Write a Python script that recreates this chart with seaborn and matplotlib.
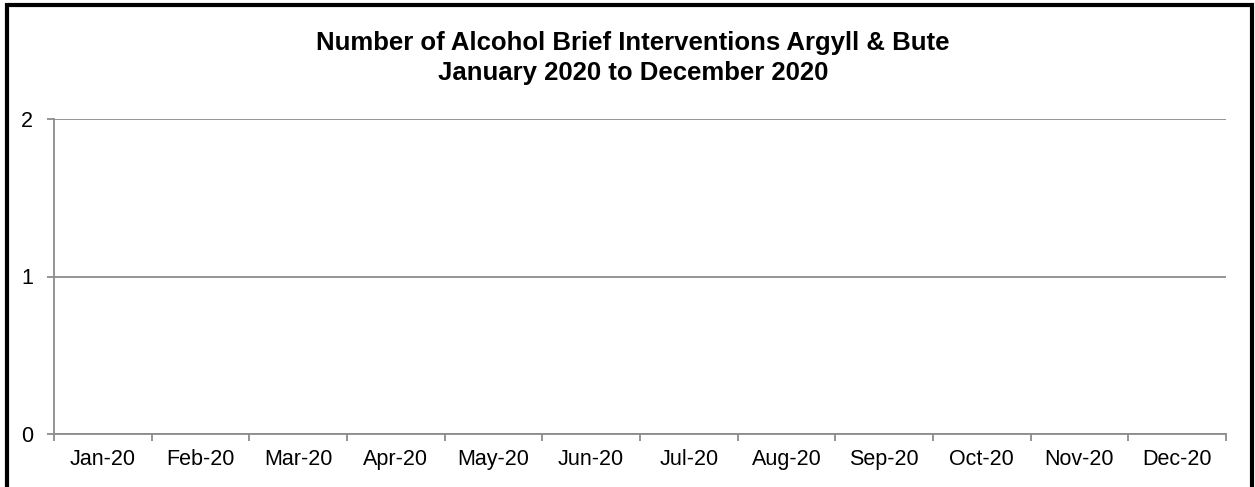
import matplotlib
matplotlib.use('Agg')
import matplotlib.pyplot as plt
import seaborn as sns
import pandas as pd
from matplotlib.patches import Rectangle

months = ['Jan-20', 'Feb-20', 'Mar-20', 'Apr-20', 'May-20', 'Jun-20',
          'Jul-20', 'Aug-20', 'Sep-20', 'Oct-20', 'Nov-20', 'Dec-20']
interventions = [0, 0, 0, 0, 0, 0, 0, 0, 0, 0, 0, 0]
y_ticks = [0, 1, 2]

df = pd.DataFrame({'Month': months, 'Interventions': interventions})

sns.set_theme(style='white')
plt.rcParams['font.family'] = ['Liberation Sans', 'DejaVu Sans']

fig = plt.figure(figsize=(12.55, 4.87), dpi=100)
ax = fig.add_axes([54 / 1255, 53 / 487, (1226 - 54) / 1255, (434 - 119) / 487])

sns.barplot(data=df, x='Month', y='Interventions', color='#4F81BD', ax=ax)

grey = '#8c8c8c'
ax.set_ylim(0, 2)
ax.set_yticks(y_ticks)
ax.set_xlim(-0.5, len(months) - 0.5)
ax.yaxis.grid(True, color=grey, linewidth=1.3)
ax.set_axisbelow(True)
for side in ['top', 'right']:
    ax.spines[side].set_visible(False)
for side in ['left', 'bottom']:
    ax.spines[side].set_color(grey)
    ax.spines[side].set_linewidth(1.3)

# Excel-style ticks between categories
ax.set_xticks([i + 0.5 for i in range(-1, len(months))], minor=True)
ax.tick_params(axis='x', which='minor', length=5, width=1.3, color=grey, direction='out', bottom=True)
ax.tick_params(axis='x', which='major', length=0, labelsize=15.5, pad=11, colors='black')
ax.tick_params(axis='y', length=5, width=1.3, color=grey, labelsize=15.5, pad=10, left=True, labelcolor='black')
ax.set_xlabel('')
ax.set_ylabel('')

fig.text(633 / 1255, 1 - 58 / 487, 'Number of Alcohol Brief Interventions Argyll & Bute\nJanuary 2020 to December 2020',
         ha='center', va='center', fontsize=18.5, fontweight='bold', linespacing=1.32, color='black')

fig.patches.append(Rectangle((7 / 1255, -0.05), (1251.5 - 7) / 1255, 1.05 - 5 / 487,
                             transform=fig.transFigure, fill=False, edgecolor='black',
                             linewidth=3, zorder=10))

fig.savefig('out.png', dpi=100)
